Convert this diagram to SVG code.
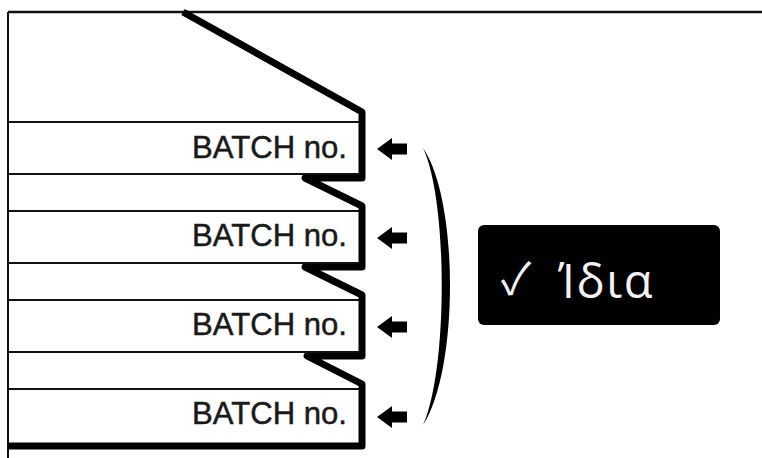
<svg xmlns="http://www.w3.org/2000/svg" width="762" height="458" viewBox="0 0 762 458">
  <style>
    .thin { stroke: #111; stroke-width: 2; fill: none; }
    .thick { stroke: #000; stroke-width: 7; fill: none; stroke-linejoin: round; }
    .lbl { font-family: "Liberation Sans", Arial, sans-serif; font-size: 32px; fill: #1a1a1a; stroke: #1a1a1a; stroke-width: 0.5px; }
    .arrow { fill: #000; }
  </style>
  <defs>
    <path id="arr" d="M0,0 L15,-11 L15,-5.5 L30,-5.5 L30,5.5 L15,5.5 L15,11 Z"/>
  </defs>
  <rect width="762" height="458" fill="#fff"/>
  <g id="frame">
    <line class="thin" x1="8" y1="12" x2="762" y2="12" style="stroke-width:2.5"/>
    <line class="thin" x1="8" y1="12" x2="8" y2="458"/>
  </g>
  <g id="stack-outline">
    <path class="thick" d="M183,12 L362,112 L362,178 L305,178 L362,206 L362,267 L305,267 L362,295 L362,356 L307,356 L362,384 L362,446 L8,446"/>
  </g>
  <g id="batch1">
    <line class="thin" x1="8" y1="122" x2="359" y2="122"/>
    <line class="thin" x1="8" y1="174" x2="359" y2="174"/>
    <text class="lbl" x="192" y="158" textLength="155" lengthAdjust="spacingAndGlyphs">BATCH no.</text>
  </g>
  <g id="batch2">
    <line class="thin" x1="8" y1="211" x2="359" y2="211"/>
    <line class="thin" x1="8" y1="263" x2="359" y2="263"/>
    <text class="lbl" x="192" y="246" textLength="155" lengthAdjust="spacingAndGlyphs">BATCH no.</text>
  </g>
  <g id="batch3">
    <line class="thin" x1="8" y1="300" x2="359" y2="300"/>
    <line class="thin" x1="8" y1="352" x2="359" y2="352"/>
    <text class="lbl" x="192" y="335" textLength="155" lengthAdjust="spacingAndGlyphs">BATCH no.</text>
  </g>
  <g id="batch4">
    <line class="thin" x1="8" y1="389" x2="359" y2="389"/>
    <text class="lbl" x="192" y="424" textLength="155" lengthAdjust="spacingAndGlyphs">BATCH no.</text>
  </g>
  <g id="connectors">
    <use href="#arr" class="arrow" x="377" y="149"/>
    <use href="#arr" class="arrow" x="377" y="238"/>
    <use href="#arr" class="arrow" x="377" y="327"/>
    <use href="#arr" class="arrow" x="377" y="417"/>
    <path id="bracket" fill="#000" d="M423,148 C459,200 459,370 423,425 C448,370 448,200 423,148 Z"/>
  </g>
  <g id="same-label">
    <rect x="478" y="225" width="242" height="100" rx="6" fill="#000"/>
    <text y="298" fill="#f2f2f2" font-family="'Open Sans', 'Noto Sans', sans-serif">
      <tspan x="501" y="294" font-family="'Noto Sans CJK JP', 'DejaVu Sans', sans-serif" font-size="44">✓</tspan>
      <tspan x="558" y="298" font-size="47" letter-spacing="1.5">Ίδια</tspan>
    </text>
  </g>
</svg>
